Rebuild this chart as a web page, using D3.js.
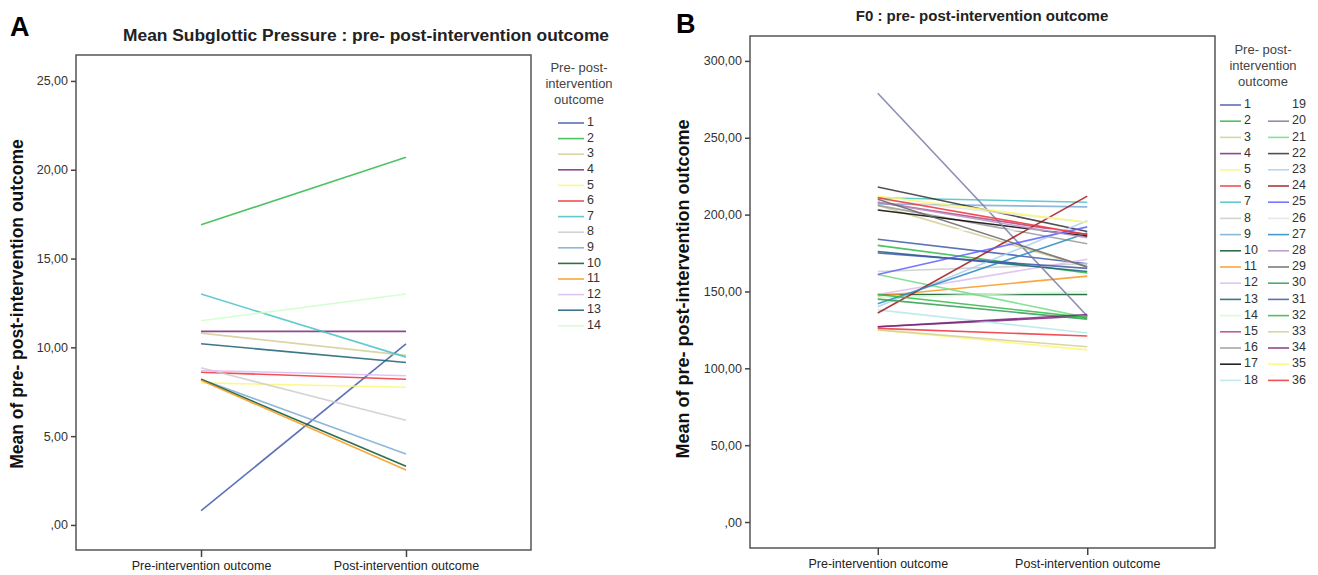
<!DOCTYPE html>
<html>
<head>
<meta charset="utf-8">
<script src="https://cdn.jsdelivr.net/npm/d3@7"></script>
<style>
  body { margin: 0; background: #fff; }
  text { font-family: "Liberation Sans", Arial, sans-serif; }
</style>
</head>
<body>
<svg id="chart" width="1318" height="575"></svg>
<script>
// Pre/post line plots, two panels (A: subglottic pressure, B: F0)

const categories = ['Pre-intervention outcome', 'Post-intervention outcome'];

// SPSS default line colour cycle (30 colours, then it repeats)
const spssColors = [
    '#3E58AC', '#2EB848', '#D3CE97', '#7C287D', '#FBF873', '#EF3338',
    '#48C2C5', '#CCCCCC', '#7AAAD5', '#0A562C', '#F8981D', '#DDBAF1',
    '#1A5F76', '#CCFFCC', '#BB3F7F', '#999999', '#000000', '#B6E7E8',
    '#FFFFFF', '#797AA7', '#70DC84', '#333333', '#ACD0EE', '#A21619',
    '#5D61FF', '#E4E4E4', '#278BC0', '#B294C7', '#666666', '#2E9E4F'
];

// Panel A - mean subglottic pressure, 14 subjects
const idsA = d3.range(1, 15);
const preA  = [0.8, 16.9, 10.8, 10.9, 8.0, 8.6, 13.0, 8.85, 8.2, 8.2, 8.15, 8.7, 10.2, 11.5];
const postA = [10.2, 20.7, 9.55, 10.9, 7.75, 8.2, 9.45, 5.9, 4.0, 3.3, 3.1, 8.4, 9.15, 13.0];
const ticksA = [0, 5, 10, 15, 20, 25];

// Panel B - F0, 36 subjects
const idsB = d3.range(1, 37);
const preB  = [184, 180, 206, 127, 125, 126, 211, 163, 207, 148, 147, 148,
               176, 146, 208, 206, 203, 138, 190, 279, 161, 218, 140, 136,
               161, 210, 142, 208, 210, 145, 175, 148, 125, 127, 212, 211];
const postB = [168, 162, 166, 134, 112, 121, 208, 168, 205, 148, 160, 171,
               163, 150, 187, 181, 186, 123, 190, 134, 133, 189, 196, 212,
               192, 195, 188, 185, 166, 132, 165, 133, 114, 135, 195, 187];
const ticksB = [0, 50, 100, 150, 200, 250, 300];

const legendTitle = ['Pre- post-', 'intervention', 'outcome'];
const yTitle = 'Mean of pre- post-intervention outcome';

const svg = d3.select('#chart');
svg.append('rect').attr('width', 1318).attr('height', 575).attr('fill', '#fff');

const fmtTick = d => d === 0 ? ',00' : d.toFixed(2).replace('.', ',');

function drawPanel(cfg) {
    const g = svg.append('g');
    const f = cfg.frame;

    const x = d3.scalePoint().domain(categories).range([f.x0, f.x1]).padding(0.61);
    const y = d3.scaleLinear().domain(cfg.yDomain).range([f.y1, f.y0]);

    // panel letter and title
    g.append('text')
        .attr('x', cfg.letterX).attr('y', cfg.letterY)
        .style('font-size', '27px').style('font-weight', 'bold').style('fill', '#000')
        .text(cfg.letter);
    g.append('text')
        .attr('x', cfg.titleX).attr('y', cfg.titleY)
        .attr('text-anchor', 'middle')
        .style('font-size', cfg.titleSize).style('font-weight', 'bold').style('fill', '#222')
        .text(cfg.title);

    // y axis title
    g.append('text')
        .attr('transform', `translate(${cfg.yTitleX}, ${cfg.yTitleY}) rotate(-90)`)
        .attr('text-anchor', 'middle')
        .style('font-size', cfg.yTitleSize).style('font-weight', 'bold').style('fill', '#111')
        .text(yTitle);

    // data lines
    const line = d3.line().x(d => x(d.cat)).y(d => y(d.v));
    const series = cfg.ids.map((id, i) => ({
        id: id,
        color: spssColors[i % spssColors.length],
        values: [{ cat: categories[0], v: cfg.pre[i] }, { cat: categories[1], v: cfg.post[i] }]
    }));
    g.selectAll('.series')
        .data(series)
        .enter()
        .append('path')
        .attr('class', 'series')
        .attr('d', d => line(d.values))
        .style('fill', 'none')
        .style('stroke', d => d.color)
        .style('stroke-width', 1.6)
        .style('opacity', 0.85);

    // frame
    g.append('rect')
        .attr('x', f.x0).attr('y', f.y0)
        .attr('width', f.x1 - f.x0).attr('height', f.y1 - f.y0)
        .style('fill', 'none').style('stroke', '#555').style('stroke-width', 1.5);

    // axes
    const yAxis = g.append('g')
        .attr('transform', `translate(${f.x0},0)`)
        .call(d3.axisLeft(y).tickValues(cfg.ticks).tickSize(5).tickPadding(3).tickFormat(fmtTick));
    yAxis.select('.domain').remove();
    yAxis.selectAll('line').style('stroke', '#444').style('stroke-width', 1.5);
    yAxis.selectAll('text').style('font-size', '12.5px').style('fill', '#333')
        .style('font-family', '"Liberation Sans", Arial, sans-serif');

    const xAxis = g.append('g')
        .attr('transform', `translate(0,${f.y1})`)
        .call(d3.axisBottom(x).tickSize(7).tickPadding(4));
    xAxis.select('.domain').remove();
    xAxis.selectAll('line').style('stroke', '#444').style('stroke-width', 1.5);
    xAxis.selectAll('text').style('font-size', '12.5px').style('fill', '#222')
        .style('font-family', '"Liberation Sans", Arial, sans-serif');

    // legend
    const lg = cfg.legend;
    g.selectAll('.leg-title')
        .data(legendTitle)
        .enter()
        .append('text')
        .attr('x', lg.titleX)
        .attr('y', (d, i) => lg.titleY + i * 16)
        .attr('text-anchor', 'middle')
        .attr('dominant-baseline', 'middle')
        .style('font-size', '13px').style('fill', '#444')
        .text(d => d);

    const items = g.selectAll('.leg-item')
        .data(series)
        .enter()
        .append('g')
        .attr('class', 'leg-item')
        .attr('transform', (d, i) => {
            const col = Math.floor(i / lg.perCol);
            const row = i % lg.perCol;
            return `translate(${lg.x + col * lg.colW}, ${lg.y0 + row * lg.step})`;
        });
    items.append('line')
        .attr('x1', 0).attr('x2', lg.lineW)
        .style('stroke', d => d.color).style('stroke-width', 1.6).style('opacity', 0.85);
    items.append('text')
        .attr('x', lg.lineW + 3)
        .attr('dominant-baseline', 'middle')
        .style('font-size', '12.5px').style('fill', '#333')
        .text(d => d.id);
}

drawPanel({
    letter: 'A', letterX: 10, letterY: 36,
    title: 'Mean Subglottic Pressure : pre- post-intervention outcome', titleX: 366, titleY: 41,
    titleSize: '17.4px',
    yTitleX: 23, yTitleY: 304, yTitleSize: '17.5px',
    frame: { x0: 76, x1: 531, y0: 55, y1: 550 },
    yDomain: [-1.41, 26.46],
    ticks: ticksA,
    ids: idsA, pre: preA, post: postA,
    legend: { titleX: 579, titleY: 69, x: 558, y0: 123, step: 15.6, perCol: 14, colW: 0, lineW: 26 }
});

drawPanel({
    letter: 'B', letterX: 676, letterY: 33,
    title: 'F0 : pre- post-intervention outcome', titleX: 982, titleY: 21,
    titleSize: '15px',
    yTitleX: 689, yTitleY: 289, yTitleSize: '18px',
    frame: { x0: 750, x1: 1215, y0: 36, y1: 548 },
    yDomain: [-16.9, 316.2],
    ticks: ticksB,
    ids: idsB, pre: preB, post: postB,
    legend: { titleX: 1263, titleY: 51, x: 1220, y0: 105, step: 16.2, perCol: 18, colW: 48, lineW: 21 }
});
</script>
</body>
</html>
